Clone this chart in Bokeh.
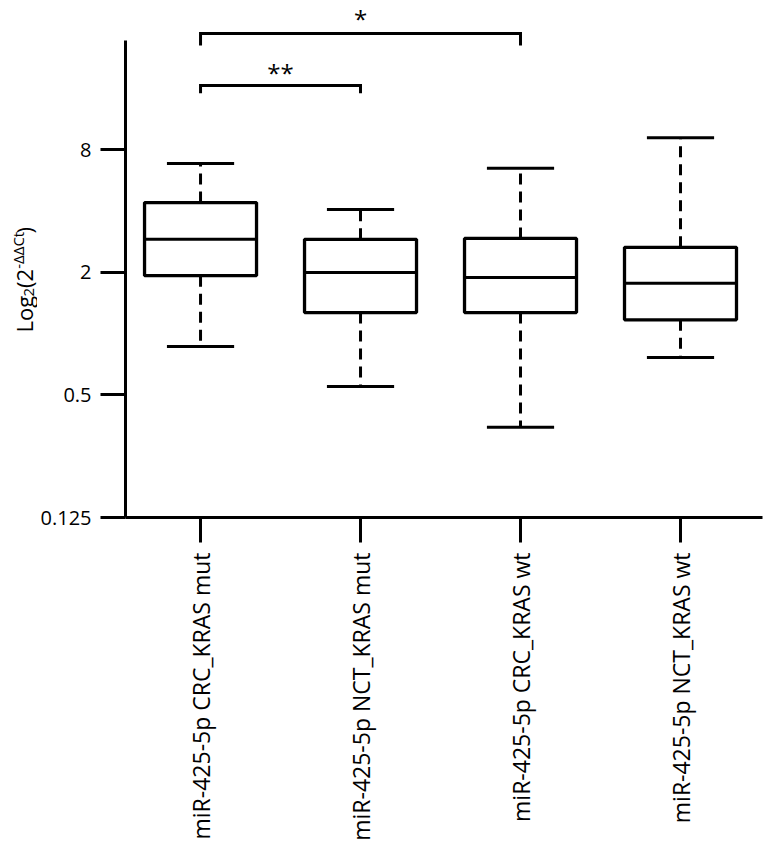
import math
from bokeh.plotting import figure
from bokeh.layouts import row
from bokeh.models import Range1d, FixedTicker, Label, BasicTickFormatter, ColumnDataSource
from bokeh.core.properties import value
from bokeh.embed import file_html
from bokeh.resources import INLINE

# ---- data ----
groups = ["miR-425-5p CRC_KRAS mut", "miR-425-5p NCT_KRAS mut",
          "miR-425-5p CRC_KRAS wt", "miR-425-5p NCT_KRAS wt"]
upper = [6.87, 4.08, 6.5, 9.2]
q3 = [4.41, 2.91, 2.94, 2.66]
median = [2.91, 2.0, 1.89, 1.77]
q1 = [1.93, 1.27, 1.27, 1.17]
lower = [0.865, 0.55, 0.347, 0.764]

y_ticks = [0.125, 0.5, 2, 8]
y_tick_labels = ["0.125", "0.5", "2", "8"]

sig_pairs = [(1, 3), (1, 2)]
sig_top = [29.9, 16.6]
sig_drop = [26.1, 15.2]
sig_text = ["*", "**"]
sig_text_y = [35.3, 19.3]

# y-axis title pieces: Log2(2^-ΔΔCt)
title_parts = ["Log", "2", "(2", "-ΔΔCt", ")"]
title_sizes = ["22px", "15px", "22px", "15px", "22px"]

pos = [1, 2, 3, 4]
box_half = 0.35
cap_half = 0.21

FRAME_W, FRAME_H = 637, 509
X0, X1 = 0.531, 4.5125
LOG_LO, LOG_HI = -3.0, 5.31
LABEL_W = 37

p = figure(frame_width=FRAME_W, frame_height=FRAME_H, y_axis_type="log",
           x_range=Range1d(X0, X1), y_range=Range1d(2 ** LOG_LO, 2 ** LOG_HI),
           output_backend="svg", toolbar_location=None,
           min_border_left=123 - LABEL_W, min_border_right=20, min_border_top=8,
           min_border_bottom=0)

p.grid.visible = False
p.outline_line_color = None
p.background_fill_color = "white"

for ax in (p.xaxis[0], p.yaxis[0]):
    ax.axis_line_width = 3
    ax.axis_line_color = "black"
    ax.major_tick_line_width = 3
    ax.major_tick_line_color = "black"
    ax.major_tick_out = 25
    ax.major_tick_in = 0
    ax.minor_tick_line_color = None
    ax.major_label_text_color = "black"
    ax.major_label_text_font = "Open Sans"
    ax.major_label_standoff = 10

p.yaxis.major_label_standoff = 9
p.xaxis.ticker = FixedTicker(ticks=pos)
p.xaxis.major_label_overrides = {k: g for k, g in zip(pos, groups)}
p.xaxis.major_label_orientation = math.pi / 2
p.xaxis.major_label_text_font_size = "23px"

p.yaxis.ticker = FixedTicker(ticks=y_ticks)
p.yaxis.formatter = BasicTickFormatter()
p.yaxis.major_label_overrides = {k: s for k, s in zip(y_ticks, y_tick_labels)}
p.yaxis.major_label_text_font_size = "20px"
p.yaxis.bounds = (0.125, 2 ** 4.79)

# whiskers (dashed)
p.segment(x0=pos, x1=pos, y0=q3, y1=upper, line_color="black", line_width=3, line_dash="11 7")
p.segment(x0=pos, x1=pos, y0=q1, y1=lower, line_color="black", line_width=3, line_dash="11 7")
# caps
p.segment(x0=[x - cap_half for x in pos], x1=[x + cap_half for x in pos], y0=upper, y1=upper,
          line_color="black", line_width=3)
p.segment(x0=[x - cap_half for x in pos], x1=[x + cap_half for x in pos], y0=lower, y1=lower,
          line_color="black", line_width=3)
# boxes
p.quad(left=[x - box_half for x in pos], right=[x + box_half for x in pos], bottom=q1, top=q3,
       fill_color="white", line_color="black", line_width=3.3)
# medians
p.segment(x0=[x - box_half for x in pos], x1=[x + box_half for x in pos], y0=median, y1=median,
          line_color="black", line_width=3)

# significance brackets
for (a, b), top, drop, txt, ty in zip(sig_pairs, sig_top, sig_drop, sig_text, sig_text_y):
    p.line(x=[a, a, b, b], y=[drop, top, top, drop], line_color="black", line_width=3,
           line_join="miter")
    p.add_layout(Label(x=(a + b) / 2, y=ty, text=txt, text_align="center",
                       text_baseline="alphabetic", text_font="Open Sans",
                       text_font_size="24px", text_color="black"))

# narrow strip to the left that carries the rotated y-axis title (no axes at all)
PANEL_H = 8 + FRAME_H
t = figure(frame_width=LABEL_W, frame_height=PANEL_H, x_range=Range1d(0, LABEL_W),
           y_range=Range1d(0, PANEL_H), x_axis_type=None, y_axis_type=None,
           output_backend="svg", toolbar_location=None, min_border=0)
t.grid.visible = False
t.outline_line_color = None

# anchor x (px from strip left) and start y (px above the x axis) of each piece
title_x = [23, 28.3, 23, 17.8, 23]
title_y = [193, 229, 237.6, 256.7, 292.0]
src = ColumnDataSource(dict(x=title_x, y=title_y, text=title_parts, size=title_sizes))
t.text(x="x", y="y", text="text", source=src, angle=math.pi / 2,
       text_align="left", text_baseline="alphabetic",
       text_font=value("Open Sans"), text_font_size="size", text_color="black")

layout = row(t, p, spacing=0)
open("out.html", "w").write(file_html(layout, INLINE))
